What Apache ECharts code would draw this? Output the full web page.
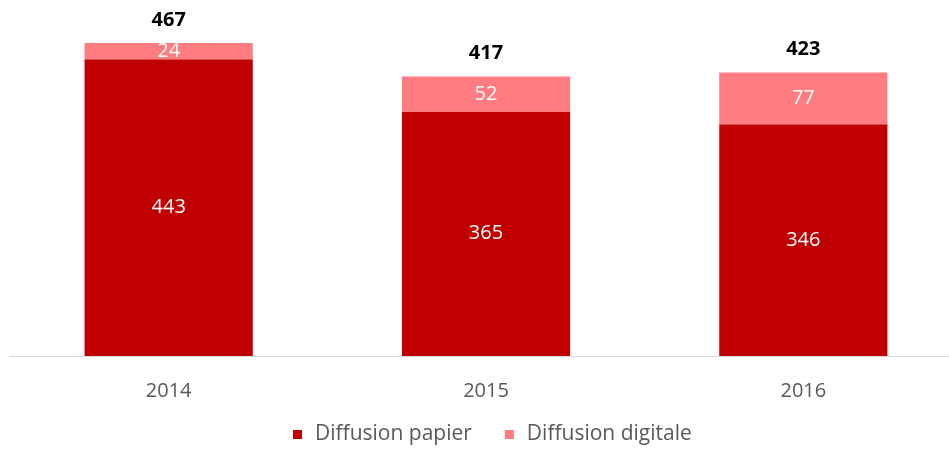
<!DOCTYPE html>
<html>
<head>
<meta charset="utf-8">
<script src="https://cdn.jsdelivr.net/npm/echarts@6/dist/echarts.min.js"></script>
<style>
  html, body { margin: 0; padding: 0; background: #fff; }
  #chart { width: 949px; height: 450px; }
</style>
</head>
<body>
<div id="chart"></div>
<script>
const years = ['2014', '2015', '2016']
const papier = [443, 365, 346]
const digitale = [24, 52, 77]
const totals = [467, 417, 423]

let myEcharts = echarts.init(document.getElementById('chart'))
let font = '"Open Sans", "Noto Sans", sans-serif'
let option = {
  animation: false,
  textStyle: { fontFamily: font },
  grid: {
    left: 10,
    width: 952,
    top: 21,
    bottom: 94,
    containLabel: false,
    outerBoundsMode: 'none'
  },
  legend: {
    data: ['Diffusion papier', 'Diffusion digitale'],
    bottom: 0,
    left: 288,
    itemWidth: 9,
    itemHeight: 9,
    itemGap: 33,
    icon: 'rect',
    textStyle: { color: '#595959', fontSize: 21, fontFamily: font, padding: [0, 0, 0, 8] }
  },
  xAxis: {
    type: 'category',
    data: years,
    axisLine: { lineStyle: { color: '#d9d9d9', width: 1 } },
    axisTick: { show: false },
    axisLabel: { color: '#595959', fontSize: 20, margin: 25, fontFamily: font }
  },
  yAxis: {
    type: 'value',
    min: 0,
    max: 500,
    show: false,
    splitLine: { show: false }
  },
  series: [
    {
      name: 'Diffusion papier',
      type: 'bar',
      stack: 'total',
      barWidth: '53%',
      itemStyle: { color: '#C00000' },
      label: { show: true, position: 'inside', color: '#fff', fontSize: 20, fontFamily: font },
      data: papier
    },
    {
      name: 'Diffusion digitale',
      type: 'bar',
      stack: 'total',
      barWidth: '53%',
      itemStyle: { color: '#FF7C80' },
      label: { show: true, position: 'inside', color: '#fff', fontSize: 20, fontFamily: font },
      data: digitale
    },
    {
      name: 'Total',
      type: 'bar',
      stack: 'total',
      barWidth: '53%',
      itemStyle: { color: 'transparent' },
      label: {
        show: true,
        position: 'top',
        distance: 13,
        color: '#000',
        fontWeight: 'bold',
        fontSize: 20,
        fontFamily: font,
        formatter: function (p) { return totals[p.dataIndex] }
      },
      data: years.map(() => 0)
    }
  ]
}
myEcharts.setOption(option)
</script>
</body>
</html>
